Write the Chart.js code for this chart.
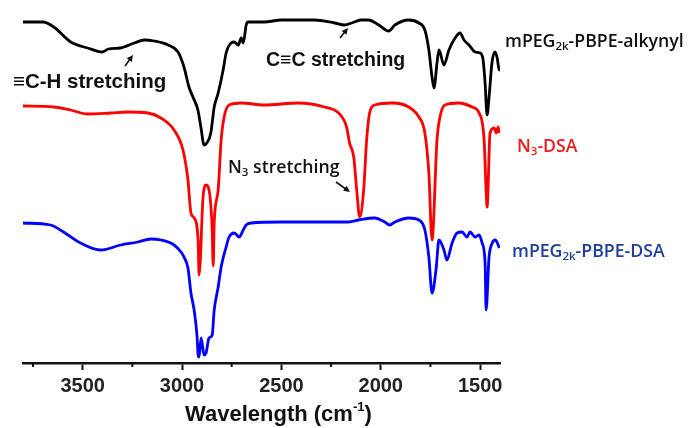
<!DOCTYPE html>
<html>
<head>
<meta charset="utf-8">
<script src="https://cdn.jsdelivr.net/npm/chart.js@4.4.0/dist/chart.umd.min.js"></script>
<style>
  html, body { margin: 0; padding: 0; background: #fff; }
</style>
</head>
<body>
<canvas id="ftir" width="689" height="428"></canvas>
<script>
// FTIR spectra, transmittance (a.u., stacked with offsets)
const wnAlkynyl = [3800,3700,3645,3560,3475,3400,3370,3310,3240,3190,3140,3070,3020,2990,2965,2945,2920,2905,2889,2875,2855,2838,2818,2793,2778,2753,2737,2717,2702,2692,2677,2667,2586,2500,2333,2232,2182,2146,2100,2061,2010,1960,1929,1859,1808,1778,1758,1742,1732,1717,1707,1682,1657,1626,1601,1581,1556,1525,1500,1485,1475,1465,1455,1440,1425,1414,1404,1400];
const tAlkynyl  = [341,341,336,321,315,311,314,315,320,323,322,318,311,296,276,266,253,236,218,220,230,256,270,293,310,320,321,318,325,320,338,341,341,343,343,340,338,340,343,343,338,332,338,343,340,333,313,286,275,300,313,298,313,325,330,323,318,311,310,303,280,248,266,301,311,305,293,295];

const wnAzide = [3800,3646,3561,3475,3359,3273,3172,3106,3040,2995,2970,2955,2939,2919,2914,2894,2879,2864,2848,2843,2838,2818,2803,2788,2763,2702,2586,2414,2283,2212,2172,2157,2136,2121,2106,2086,2071,2056,2030,1944,1859,1808,1778,1758,1742,1717,1702,1677,1606,1540,1505,1480,1470,1465,1450,1429,1419,1409,1404];
const tAzide  = [257,256,253,249,250,251,250,245,233,213,183,150,145,123,88,166,178,173,133,97,140,173,223,246,258,260,258,260,256,250,236,220,206,173,146,173,223,250,258,260,256,246,230,190,123,223,246,258,260,256,250,223,173,156,230,235,230,236,230];

const wnDSA = [3800,3662,3596,3510,3409,3308,3222,3157,3106,3040,3005,2990,2970,2955,2939,2924,2919,2914,2904,2889,2879,2864,2848,2838,2818,2803,2778,2763,2737,2712,2692,2677,2652,2500,2333,2162,2111,2030,1980,1955,1929,1859,1808,1778,1758,1742,1722,1707,1682,1667,1641,1616,1591,1566,1551,1525,1505,1490,1475,1470,1455,1439,1424,1409,1404];
const tDSA  = [140,138,131,120,113,118,121,124,123,118,111,106,95,70,53,26,8,6,25,8,10,25,28,53,76,96,116,126,130,126,133,138,140,141,141,141,143,145,141,138,141,145,143,133,106,70,93,123,113,103,120,130,131,126,131,126,128,120,100,53,106,120,123,118,115];

const tickValues = [1500, 2000, 2500, 3000, 3500];
const minorTicks = [1750, 2250, 2750, 3250, 3750];

function pts(xs, ys) {
  return xs.map((x, i) => ({ x: x, y: ys[i] }));
}

function richText(ctx, parts, x, y, size, weight, family, color) {
  ctx.fillStyle = color;
  ctx.textBaseline = "middle";
  ctx.textAlign = "left";
  let cx = x;
  parts.forEach(p => {
    let s = size, dy = 0;
    if (p.sub) { s = size * 0.65; dy = size * 0.28; }
    if (p.sup) { s = size * 0.6; dy = -size * 0.35; }
    ctx.font = `${weight} ${s}px ${family}`;
    ctx.fillText(p.t, cx, y + dy);
    cx += ctx.measureText(p.t).width;
  });
}

function arrow(ctx, x1, y1, x2, y2) {
  const a = Math.atan2(y2 - y1, x2 - x1);
  ctx.strokeStyle = "#111";
  ctx.fillStyle = "#111";
  ctx.lineWidth = 1.6;
  ctx.beginPath();
  ctx.moveTo(x1, y1);
  ctx.lineTo(x2 - 3 * Math.cos(a), y2 - 3 * Math.sin(a));
  ctx.stroke();
  ctx.beginPath();
  ctx.moveTo(x2, y2);
  ctx.lineTo(x2 - 7 * Math.cos(a - 0.45), y2 - 7 * Math.sin(a - 0.45));
  ctx.lineTo(x2 - 7 * Math.cos(a + 0.45), y2 - 7 * Math.sin(a + 0.45));
  ctx.closePath();
  ctx.fill();
}

const labels = {
  id: "labels",
  afterDraw(chart) {
    const ctx = chart.ctx;
    const xs = chart.scales.x;
    const bottom = chart.chartArea.bottom;
    ctx.save();

    // minor ticks
    ctx.strokeStyle = "#111";
    ctx.lineWidth = 2;
    minorTicks.forEach(v => {
      const px = xs.getPixelForValue(v);
      ctx.beginPath();
      ctx.moveTo(px, bottom);
      ctx.lineTo(px, bottom + 4);
      ctx.stroke();
    });

    const arial = "'Liberation Sans', Arial, sans-serif";
    const sans = "'Open Sans', 'Noto Sans', sans-serif";

    richText(ctx, [{ t: "\u2261C-H stretching" }], 13, 82, 20.5, "bold", arial, "#111");
    arrow(ctx, 125, 66, 133, 55);
    richText(ctx, [{ t: "C\u2261C stretching" }], 266, 61, 19.5, "bold", arial, "#111");
    arrow(ctx, 340, 38, 348, 28);
    richText(ctx, [{ t: "N" }, { t: "3", sub: true }, { t: " stretching" }], 228, 168, 17.7, "600", sans, "#111");
    arrow(ctx, 336, 182, 350, 192);

    richText(ctx, [{ t: "mPEG" }, { t: "2k", sub: true }, { t: "-PBPE-alkynyl" }], 505, 42, 17.7, "600", sans, "#111");
    richText(ctx, [{ t: "N" }, { t: "3", sub: true }, { t: "-DSA" }], 517, 147, 17.7, "600", sans, "#ee1c1c");
    richText(ctx, [{ t: "mPEG" }, { t: "2k", sub: true }, { t: "-PBPE-DSA" }], 512, 252, 17.7, "600", sans, "#203f99");

    richText(ctx, [{ t: "Wavelength (cm" }, { t: "-1", sup: true }, { t: ")" }], 185, 415, 22, "bold", arial, "#111");
    ctx.restore();
  }
};

new Chart(document.getElementById("ftir"), {
  type: "line",
  data: {
    datasets: [
      { label: "mPEG2k-PBPE-alkynyl", data: pts(wnAlkynyl, tAlkynyl), borderColor: "#000000" },
      { label: "N3-DSA", data: pts(wnAzide, tAzide), borderColor: "#ff0000" },
      { label: "mPEG2k-PBPE-DSA", data: pts(wnDSA, tDSA), borderColor: "#0000ff" }
    ]
  },
  options: {
    responsive: false,
    devicePixelRatio: 1,
    animation: false,
    layout: { padding: { left: 23, right: 189, top: 0, bottom: 0 } },
    elements: {
      point: { radius: 0 },
      line: { borderWidth: 2.8, cubicInterpolationMode: "monotone", fill: false }
    },
    plugins: { legend: { display: false }, tooltip: { enabled: false } },
    scales: {
      x: {
        type: "linear",
        reverse: true,
        min: 1400,
        max: 3800,
        afterBuildTicks: s => { s.ticks = tickValues.map(v => ({ value: v })); },
        afterFit: s => { s.height = 65; },
        border: { display: true, color: "#111", width: 2.5 },
        grid: { drawOnChartArea: false, tickLength: 7, tickColor: "#111", tickWidth: 2 },
        ticks: {
          color: "#222",
          padding: 4,
          maxRotation: 0,
          callback: v => String(v),
          font: { family: "'Liberation Sans', Arial, sans-serif", size: 20, weight: "bold" }
        }
      },
      y: { display: false, min: 0, max: 363 }
    }
  },
  plugins: [labels]
});
</script>
</body>
</html>
